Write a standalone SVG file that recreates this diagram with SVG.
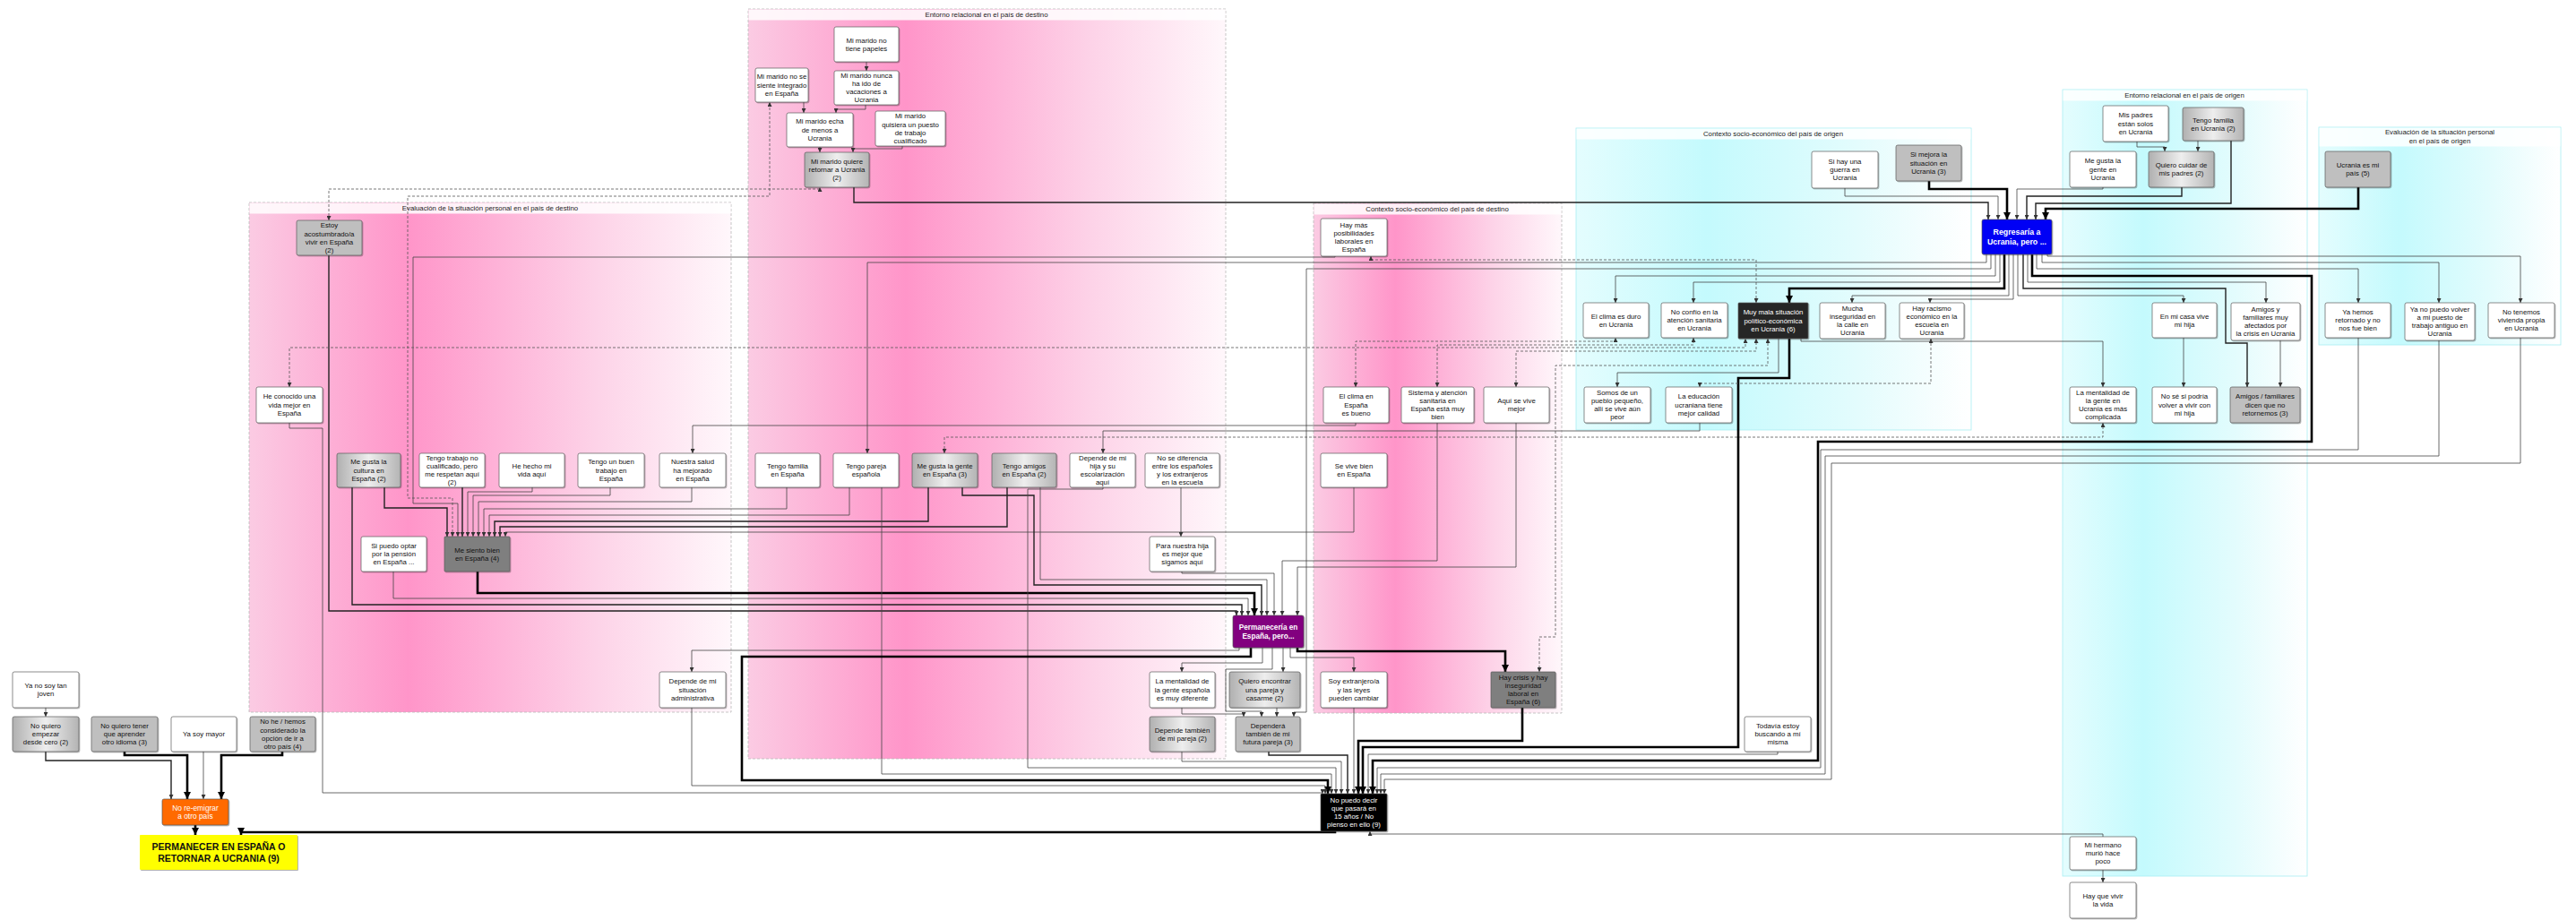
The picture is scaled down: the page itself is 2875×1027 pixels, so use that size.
<svg xmlns="http://www.w3.org/2000/svg" width="2875" height="1027" viewBox="0 0 2875 1027">
<defs>
<linearGradient id="pk" x1="0" y1="0" x2="1" y2="0"><stop offset="0" stop-color="#fbcbe3"/><stop offset="0.33" stop-color="#ff95c9"/><stop offset="0.72" stop-color="#fdd3e8"/><stop offset="1" stop-color="#fff7fb"/></linearGradient>
<linearGradient id="cy" x1="0" y1="0" x2="1" y2="0"><stop offset="0" stop-color="#e4fdfe"/><stop offset="0.33" stop-color="#c4fafd"/><stop offset="0.72" stop-color="#e4fcfd"/><stop offset="1" stop-color="#ffffff"/></linearGradient>
<linearGradient id="gg" x1="0" y1="0" x2="1" y2="0"><stop offset="0" stop-color="#b0b0b0"/><stop offset="0.5" stop-color="#eeeeee"/><stop offset="1" stop-color="#b4b4b4"/></linearGradient>
<filter id="sh" x="-10%" y="-10%" width="130%" height="130%"><feDropShadow dx="1" dy="1" stdDeviation="0.7" flood-color="#000" flood-opacity="0.3"/></filter>
<marker id="a" viewBox="0 0 8 8" refX="8" refY="4" markerWidth="5" markerHeight="5" orient="auto-start-reverse" markerUnits="userSpaceOnUse"><path d="M0,0 L8,4 L0,8z" fill="#333"/></marker>
<marker id="ak" viewBox="0 0 8 8" refX="8" refY="4" markerWidth="8" markerHeight="8" orient="auto-start-reverse" markerUnits="userSpaceOnUse"><path d="M0,0 L8,4 L0,8z" fill="#000"/></marker>
</defs>
<style>
.cont{stroke:#b9b9b9;stroke-width:.8;stroke-dasharray:3 2}
.ccy{stroke:#a8eef2;stroke-width:.8}
.band{fill:#ffffff;fill-opacity:.85}
.ct{font-family:"Liberation Sans",Arial,sans-serif;font-size:7.8px;fill:#222;text-anchor:middle}
.nd rect{stroke:#5a5a5a;stroke-width:.7;filter:url(#sh)}
.w{fill:#fff}.g{fill:#bfbfbf}.gg{fill:url(#gg)}.dk{fill:#7f7f7f}.bk{fill:#262626}.bl{fill:#0000f5}.pu{fill:#82007f}.or{fill:#ff6a00}.ye{fill:#ffff00}.blk{fill:#000}
.tx{font-family:"Liberation Sans",Arial,sans-serif;font-size:7.8px;fill:#111;text-anchor:middle}
.wt{fill:#fff}
.b{font-weight:bold}
.t{fill:none;stroke:#444;stroke-width:.8;marker-end:url(#a)}
.m{fill:none;stroke:#222;stroke-width:1.4;marker-end:url(#a)}
.k{fill:none;stroke:#000;stroke-width:2.6;marker-end:url(#ak)}
.d{fill:none;stroke:#555;stroke-width:.8;stroke-dasharray:3 2;marker-start:url(#a);marker-end:url(#a)}
</style>
<rect width="2875" height="1027" fill="#fff"/>

<g id="containers">
<g id="c_entornoDest"><rect class="cont" x="835" y="10" width="533" height="837" fill="url(#pk)"/><rect class="band" x="835.5" y="10.5" width="532" height="12"/><text class="ct" x="1101" y="19">Entorno relacional en el país de destino</text></g>
<g id="c_evalDest"><rect class="cont" x="278" y="226" width="538" height="569" fill="url(#pk)"/><rect class="band" x="278.5" y="226.5" width="537" height="12"/><text class="ct" x="547" y="235">Evaluación de la situación personal en el país de destino</text></g>
<g id="c_contextDest"><rect class="cont" x="1466" y="227" width="277" height="569" fill="url(#pk)"/><rect class="band" x="1466.5" y="227.5" width="276" height="12"/><text class="ct" x="1604" y="236">Contexto socio-económico del país de destino</text></g>
<g id="c_contextOrig"><rect class="ccy" x="1759" y="143" width="441" height="337" fill="url(#cy)"/><rect class="band" x="1759.5" y="143.5" width="440" height="12"/><text class="ct" x="1979" y="152">Contexto socio-económico del país de origen</text></g>
<g id="c_entornoOrig"><rect class="ccy" x="2302" y="100" width="273" height="878" fill="url(#cy)"/><rect class="band" x="2302.5" y="100.5" width="272" height="12"/><text class="ct" x="2438" y="109">Entorno relacional en el país de origen</text></g>
<g id="c_evalOrig"><rect class="ccy" x="2588" y="142" width="270" height="243" fill="url(#cy)"/><rect class="band" x="2588.5" y="142.5" width="269" height="21"/><text class="ct" x="2723" y="150">Evaluación de la situación personal<tspan x="2723" dy="9.5">en el país de origen</tspan></text></g>
</g>

<g id="connectors">
<path class="t" d="M967,69 V79"/>
<path class="t" d="M897,114 V126"/>
<path class="t" d="M966,117 V122 H933 V126"/>
<path class="t" d="M915,164 V170"/>
<path class="t" d="M1007,163 V166 H952 V170"/>
<path class="d" d="M367,246 V211 H915 V209"/>
<path class="d" d="M505,599 V556 H455 V219 H859 V114"/>
<path class="m" d="M953,209 V226 H2219 V245"/>
<path class="t" d="M1490,286 V287 H461 V562 H511 V599"/>
<path class="d" d="M1960,338 V290 H1530 V286"/>
<path class="m" d="M429,544 V567 H499 V599"/>
<path class="m" d="M516,544 V599"/>
<path class="t" d="M594,544 V549 H522 V599"/>
<path class="t" d="M681,544 V553 H528 V599"/>
<path class="t" d="M772,544 V560 H534 V599"/>
<path class="t" d="M878,544 V568 H540 V599"/>
<path class="t" d="M948,544 V575 H546 V599"/>
<path class="m" d="M1036,544 V582 H552 V599"/>
<path class="m" d="M1124,544 V588 H558 V599"/>
<path class="t" d="M1511,544 V594 H564 V599"/>
<path class="k" d="M533,638 V662 H1400 V687"/>
<path class="t" d="M439,638 V668 H1393 V687"/>
<path class="m" d="M393,544 V675 H1386 V687"/>
<path class="m" d="M367,285 V682 H1380 V687"/>
<path class="t" d="M323,472 V478 H360 V885 H1476 V886"/>
<path class="m" d="M1074,544 V553 H1154 V653 H1408 V687"/>
<path class="t" d="M1161,544 V647 H1414 V687"/>
<path class="t" d="M1231,544 V546 H1147 V857 H1491 V886"/>
<path class="t" d="M1318,544 V599"/>
<path class="t" d="M1319,638 V640 H1422 V687"/>
<path class="t" d="M1604,472 V626 H1431 V687"/>
<path class="t" d="M1692,472 V633 H1448 V687"/>
<path class="t" d="M984,544 V864 H1486 V886"/>
<path class="t" d="M1513,472 V475 H773 V506"/>
<path class="t" d="M1897,472 V481 H1231 V506"/>
<path class="d" d="M1054,506 V488 H2347 V472"/>
<path class="d" d="M1513,432 V381 H1803 V377"/>
<path class="d" d="M1604,432 V385 H1890 V377"/>
<path class="d" d="M323,432 V388 H1948 V378"/>
<path class="d" d="M1692,432 V392 H1960 V378"/>
<path class="d" d="M1973,378 V408 H1736 V711 H1718 V750"/>
<path class="t" d="M1985,378 V416 H1805 V432"/>
<path class="k" d="M1997,378 V422 H1940 V834 H1521 V886"/>
<path class="d" d="M2155,378 V428 H1897 V432"/>
<path class="t" d="M2010,378 V381 H2347 V432"/>
<path class="t" d="M2059,210 V219 H2230 V245"/>
<path class="k" d="M2153,202 V211 H2240 V245"/>
<path class="t" d="M2347,209 V211 H2251 V245"/>
<path class="m" d="M2435,209 V219 H2262 V245"/>
<path class="m" d="M2490,157 V227 H2272 V245"/>
<path class="k" d="M2632,209 V233 H2283 V245"/>
<path class="t" d="M2385,158 V164 H2416 V169"/>
<path class="t" d="M2453,157 V169"/>
<path class="t" d="M2285,284 V286 H2813 V338"/>
<path class="t" d="M2279,284 V293 H2722 V338"/>
<path class="t" d="M2273,284 V300 H2632 V338"/>
<path class="k" d="M2268,284 V308 H2580 V493 H2029 V849 H1532 V886"/>
<path class="t" d="M2263,284 V315 H2529 V338"/>
<path class="m" d="M2258,284 V322 H2484 V383 H2508 V432"/>
<path class="t" d="M2252,284 V330 H2437 V338"/>
<path class="t" d="M2247,284 V334 H2154 V338"/>
<path class="t" d="M2242,284 V330 H2067 V338"/>
<path class="k" d="M2237,284 V322 H1997 V338"/>
<path class="t" d="M2232,284 V315 H1890 V338"/>
<path class="t" d="M2227,284 V308 H1803 V338"/>
<path class="t" d="M2222,284 V300 H1458 V795 H1444 V800"/>
<path class="t" d="M2217,284 V293 H968 V506"/>
<path class="t" d="M2545,380 V432"/>
<path class="t" d="M2437,377 V432"/>
<path class="t" d="M2632,377 V502 H2032 V857 H1537 V886"/>
<path class="t" d="M2722,380 V509 H2037 V864 H1541 V886"/>
<path class="t" d="M2813,377 V517 H2044 V870 H1545 V886"/>
<path class="t" d="M1984,839 V842 H1527 V886"/>
<path class="k" d="M1699,790 V827 H1516 V886"/>
<path class="t" d="M1511,790 V886"/>
<path class="t" d="M1383,723 V726 H772 V750"/>
<path class="k" d="M1396,723 V733 H828 V871 H1482 V886"/>
<path class="t" d="M1409,723 V740 H1319 V750"/>
<path class="t" d="M1420,723 V747 H1368 V794 H1408 V800"/>
<path class="t" d="M1432,723 V750"/>
<path class="t" d="M1440,723 V734 H1511 V750"/>
<path class="k" d="M1448,723 V727 H1680 V750"/>
<path class="t" d="M1319,790 V797 H1388 V800"/>
<path class="t" d="M1425,790 V800"/>
<path class="t" d="M1319,839 V850 H1497 V886"/>
<path class="m" d="M1416,839 V843 H1504 V886"/>
<path class="t" d="M772,790 V877 H1479 V886"/>
<path class="k" d="M1490,928 V929 H269 V932"/>
<path class="t" d="M2347,934 V931 H1529 V928"/>
<path class="t" d="M2347,971 V985"/>
<path class="t" d="M51,790 V800"/>
<path class="m" d="M51,839 V849 H191 V892"/>
<path class="k" d="M139,839 V843 H209 V892"/>
<path class="t" d="M227,839 V892"/>
<path class="k" d="M315,839 V843 H247 V892"/>
<path class="k" d="M218,921 V932"/>
</g>

<g id="nodes">
<g id="n_papeles" class="nd"><rect class="w" x="931" y="30" width="72" height="39" rx="2"/><text class="tx" x="967" y="47.5">Mi marido no<tspan x="967" dy="9.2">tiene papeles</tspan></text></g>
<g id="n_nointegrado" class="nd"><rect class="w" x="843" y="76" width="59" height="38" rx="2"/><text class="tx" x="872.5" y="88.4">Mi marido no se<tspan x="872.5" dy="9.2">siente integrado</tspan><tspan x="872.5" dy="9.2">en España</tspan></text></g>
<g id="n_vacaciones" class="nd"><rect class="w" x="931" y="79" width="72" height="38" rx="2"/><text class="tx" x="967" y="86.8">Mi marido nunca<tspan x="967" dy="9.2">ha ido de</tspan><tspan x="967" dy="9.2">vacaciones a</tspan><tspan x="967" dy="9.2">Ucrania</tspan></text></g>
<g id="n_echa" class="nd"><rect class="w" x="878" y="126" width="74" height="38" rx="2"/><text class="tx" x="915" y="138.4">Mi marido echa<tspan x="915" dy="9.2">de menos a</tspan><tspan x="915" dy="9.2">Ucrania</tspan></text></g>
<g id="n_quisiera" class="nd"><rect class="w" x="977" y="124" width="78" height="39" rx="2"/><text class="tx" x="1016" y="132.3">Mi marido<tspan x="1016" dy="9.2">quisiera un puesto</tspan><tspan x="1016" dy="9.2">de trabajo</tspan><tspan x="1016" dy="9.2">cualificado</tspan></text></g>
<g id="n_quiere" class="nd"><rect class="gg" x="898" y="170" width="72" height="39" rx="2"/><text class="tx" x="934" y="182.9">Mi marido quiere<tspan x="934" dy="9.2">retornar a Ucrania</tspan><tspan x="934" dy="9.2">(2)</tspan></text></g>
<g id="n_estoy" class="nd"><rect class="g" x="331" y="246" width="73" height="39" rx="2"/><text class="tx" x="367.5" y="254.3">Estoy<tspan x="367.5" dy="9.2">acostumbrado/a</tspan><tspan x="367.5" dy="9.2">vivir en España</tspan><tspan x="367.5" dy="9.2">(2)</tspan></text></g>
<g id="n_heconocido" class="nd"><rect class="w" x="286" y="432" width="74" height="40" rx="2"/><text class="tx" x="323" y="445.4">He conocido una<tspan x="323" dy="9.2">vida mejor en</tspan><tspan x="323" dy="9.2">España</tspan></text></g>
<g id="n_cultura" class="nd"><rect class="gg" x="376" y="506" width="71" height="38" rx="2"/><text class="tx" x="411.5" y="518.4">Me gusta la<tspan x="411.5" dy="9.2">cultura en</tspan><tspan x="411.5" dy="9.2">España (2)</tspan></text></g>
<g id="n_trabajonocual" class="nd"><rect class="w" x="468" y="506" width="73" height="38" rx="2"/><text class="tx" x="504.5" y="513.8">Tengo trabajo no<tspan x="504.5" dy="9.2">cualificado, pero</tspan><tspan x="504.5" dy="9.2">me respetan aquí</tspan><tspan x="504.5" dy="9.2">(2)</tspan></text></g>
<g id="n_vida" class="nd"><rect class="w" x="557" y="506" width="73" height="38" rx="2"/><text class="tx" x="593.5" y="523">He hecho mi<tspan x="593.5" dy="9.2">vida aquí</tspan></text></g>
<g id="n_buentrabajo" class="nd"><rect class="w" x="645" y="506" width="74" height="38" rx="2"/><text class="tx" x="682" y="518.4">Tengo un buen<tspan x="682" dy="9.2">trabajo en</tspan><tspan x="682" dy="9.2">España</tspan></text></g>
<g id="n_salud" class="nd"><rect class="w" x="736" y="506" width="74" height="38" rx="2"/><text class="tx" x="773" y="518.4">Nuestra salud<tspan x="773" dy="9.2">ha mejorado</tspan><tspan x="773" dy="9.2">en España</tspan></text></g>
<g id="n_pension" class="nd"><rect class="w" x="403" y="599" width="73" height="39" rx="2"/><text class="tx" x="439.5" y="611.9">Si puedo optar<tspan x="439.5" dy="9.2">por la pensión</tspan><tspan x="439.5" dy="9.2">en España ...</tspan></text></g>
<g id="n_siento" class="nd"><rect class="dk" x="496" y="599" width="73" height="39" rx="1"/><text class="tx" x="532.5" y="616.5">Me siento bien<tspan x="532.5" dy="9.2">en España (4)</tspan></text></g>
<g id="n_admin" class="nd"><rect class="w" x="736" y="750" width="74" height="40" rx="2"/><text class="tx" x="773" y="763.4">Depende de mi<tspan x="773" dy="9.2">situación</tspan><tspan x="773" dy="9.2">administrativa</tspan></text></g>
<g id="n_familiaES" class="nd"><rect class="w" x="843" y="506" width="72" height="38" rx="2"/><text class="tx" x="879" y="523">Tengo familia<tspan x="879" dy="9.2">en España</tspan></text></g>
<g id="n_pareja" class="nd"><rect class="w" x="930" y="506" width="73" height="38" rx="2"/><text class="tx" x="966.5" y="523">Tengo pareja<tspan x="966.5" dy="9.2">española</tspan></text></g>
<g id="n_genteES" class="nd"><rect class="gg" x="1018" y="506" width="73" height="38" rx="2"/><text class="tx" x="1054.5" y="523">Me gusta la gente<tspan x="1054.5" dy="9.2">en España (3)</tspan></text></g>
<g id="n_amigos" class="nd"><rect class="gg" x="1107" y="506" width="72" height="38" rx="2"/><text class="tx" x="1143" y="523">Tengo amigos<tspan x="1143" dy="9.2">en España (2)</tspan></text></g>
<g id="n_hija" class="nd"><rect class="w" x="1194" y="506" width="73" height="38" rx="2"/><text class="tx" x="1230.5" y="513.8">Depende de mi<tspan x="1230.5" dy="9.2">hija y su</tspan><tspan x="1230.5" dy="9.2">escolarización</tspan><tspan x="1230.5" dy="9.2">aquí</tspan></text></g>
<g id="n_nodif" class="nd"><rect class="w" x="1278" y="506" width="83" height="38" rx="2"/><text class="tx" x="1319.5" y="513.8">No se diferencia<tspan x="1319.5" dy="9.2">entre los españoles</tspan><tspan x="1319.5" dy="9.2">y los extranjeros</tspan><tspan x="1319.5" dy="9.2">en la escuela</tspan></text></g>
<g id="n_paranuestra" class="nd"><rect class="w" x="1283" y="599" width="73" height="39" rx="2"/><text class="tx" x="1319.5" y="611.9">Para nuestra hija<tspan x="1319.5" dy="9.2">es mejor que</tspan><tspan x="1319.5" dy="9.2">sigamos aquí</tspan></text></g>
<g id="n_permaneceria" class="nd"><rect class="pu" x="1376" y="687" width="79" height="36" rx="2"/><text class="tx wt b" x="1415.5" y="703" style="font-size:8.2px">Permanecería en<tspan x="1415.5" dy="10">España, pero...</tspan></text></g>
<g id="n_mentES" class="nd"><rect class="w" x="1283" y="750" width="73" height="40" rx="2"/><text class="tx" x="1319.5" y="763.4">La mentalidad de<tspan x="1319.5" dy="9.2">la gente española</tspan><tspan x="1319.5" dy="9.2">es muy diferente</tspan></text></g>
<g id="n_casarme" class="nd"><rect class="gg" x="1372" y="750" width="79" height="40" rx="2"/><text class="tx" x="1411.5" y="763.4">Quiero encontrar<tspan x="1411.5" dy="9.2">una pareja y</tspan><tspan x="1411.5" dy="9.2">casarme (2)</tspan></text></g>
<g id="n_dependepareja" class="nd"><rect class="gg" x="1283" y="800" width="73" height="39" rx="2"/><text class="tx" x="1319.5" y="817.5">Depende también<tspan x="1319.5" dy="9.2">de mi pareja (2)</tspan></text></g>
<g id="n_futura" class="nd"><rect class="g" x="1379" y="800" width="72" height="39" rx="2"/><text class="tx" x="1415" y="812.9">Dependerá<tspan x="1415" dy="9.2">también de mi</tspan><tspan x="1415" dy="9.2">futura pareja (3)</tspan></text></g>
<g id="n_posibilidades" class="nd"><rect class="w" x="1474" y="244" width="74" height="42" rx="2"/><text class="tx" x="1511" y="253.8">Hay más<tspan x="1511" dy="9.2">posibilidades</tspan><tspan x="1511" dy="9.2">laborales en</tspan><tspan x="1511" dy="9.2">España</tspan></text></g>
<g id="n_climaES" class="nd"><rect class="w" x="1477" y="432" width="73" height="40" rx="2"/><text class="tx" x="1513.5" y="445.4">El clima en<tspan x="1513.5" dy="9.2">España</tspan><tspan x="1513.5" dy="9.2">es bueno</tspan></text></g>
<g id="n_sanidadES" class="nd"><rect class="w" x="1564" y="432" width="81" height="40" rx="2"/><text class="tx" x="1604.5" y="440.8">Sistema y atención<tspan x="1604.5" dy="9.2">sanitaria en</tspan><tspan x="1604.5" dy="9.2">España está muy</tspan><tspan x="1604.5" dy="9.2">bien</tspan></text></g>
<g id="n_mejor" class="nd"><rect class="w" x="1656" y="432" width="73" height="40" rx="2"/><text class="tx" x="1692.5" y="450">Aquí se vive<tspan x="1692.5" dy="9.2">mejor</tspan></text></g>
<g id="n_vivebien" class="nd"><rect class="w" x="1474" y="506" width="74" height="38" rx="2"/><text class="tx" x="1511" y="523">Se vive bien<tspan x="1511" dy="9.2">en España</tspan></text></g>
<g id="n_extranjero" class="nd"><rect class="w" x="1474" y="750" width="74" height="40" rx="2"/><text class="tx" x="1511" y="763.4">Soy extranjero/a<tspan x="1511" dy="9.2">y las leyes</tspan><tspan x="1511" dy="9.2">pueden cambiar</tspan></text></g>
<g id="n_crisisES" class="nd"><rect class="dk" x="1664" y="750" width="72" height="40" rx="1"/><text class="tx" x="1700" y="758.8">Hay crisis y hay<tspan x="1700" dy="9.2">inseguridad</tspan><tspan x="1700" dy="9.2">laboral en</tspan><tspan x="1700" dy="9.2">España (6)</tspan></text></g>
<g id="n_todavia" class="nd"><rect class="w" x="1947" y="800" width="74" height="39" rx="2"/><text class="tx" x="1984" y="812.9">Todavía estoy<tspan x="1984" dy="9.2">buscando a mí</tspan><tspan x="1984" dy="9.2">misma</tspan></text></g>
<g id="n_nopuedo" class="nd"><rect class="blk" x="1474" y="886" width="74" height="42" rx="1"/><text class="tx wt" x="1511" y="895.8">No puedo decir<tspan x="1511" dy="9.2">que pasará en</tspan><tspan x="1511" dy="9.2">15 años / No</tspan><tspan x="1511" dy="9.2">pienso en ello (9)</tspan></text></g>
<g id="n_hermano" class="nd"><rect class="w" x="2310" y="934" width="74" height="37" rx="2"/><text class="tx" x="2347" y="945.9">Mi hermano<tspan x="2347" dy="9.2">murió hace</tspan><tspan x="2347" dy="9.2">poco</tspan></text></g>
<g id="n_vivirvida" class="nd"><rect class="w" x="2310" y="985" width="74" height="40" rx="2"/><text class="tx" x="2347" y="1003">Hay que vivir<tspan x="2347" dy="9.2">la vida</tspan></text></g>
<g id="n_joven" class="nd"><rect class="w" x="14" y="750" width="74" height="40" rx="2"/><text class="tx" x="51" y="768">Ya no soy tan<tspan x="51" dy="9.2">joven</tspan></text></g>
<g id="n_cero" class="nd"><rect class="gg" x="14" y="800" width="74" height="39" rx="2"/><text class="tx" x="51" y="812.9">No quiero<tspan x="51" dy="9.2">empezar</tspan><tspan x="51" dy="9.2">desde cero (2)</tspan></text></g>
<g id="n_idioma" class="nd"><rect class="g" x="102" y="800" width="74" height="39" rx="2"/><text class="tx" x="139" y="812.9">No quiero tener<tspan x="139" dy="9.2">que aprender</tspan><tspan x="139" dy="9.2">otro idioma (3)</tspan></text></g>
<g id="n_mayor" class="nd"><rect class="w" x="191" y="800" width="73" height="39" rx="2"/><text class="tx" x="227.5" y="822.1">Ya soy mayor</text></g>
<g id="n_otropais" class="nd"><rect class="g" x="279" y="800" width="73" height="39" rx="2"/><text class="tx" x="315.5" y="808.3">No he / hemos<tspan x="315.5" dy="9.2">considerado la</tspan><tspan x="315.5" dy="9.2">opción de ir a</tspan><tspan x="315.5" dy="9.2">otro país (4)</tspan></text></g>
<g id="n_reemigrar" class="nd"><rect class="or" x="181" y="892" width="74" height="29" rx="2"/><text class="tx wt" x="218" y="904.5" style="font-size:8.4px">No re-emigrar<tspan x="218" dy="9.5">a otro país</tspan></text></g>
<g id="n_root" class="nd"><rect class="ye" x="156" y="932" width="176" height="39" rx="1" style="stroke:none"/><text class="tx b" x="244" y="948.7" style="font-size:10.5px">PERMANECER EN ESPAÑA O<tspan x="244" dy="13">RETORNAR A UCRANIA (9)</tspan></text></g>
<g id="n_guerra" class="nd"><rect class="w" x="2022" y="169" width="74" height="41" rx="2"/><text class="tx" x="2059" y="182.9">Si hay una<tspan x="2059" dy="9.2">guerra en</tspan><tspan x="2059" dy="9.2">Ucrania</tspan></text></g>
<g id="n_mejora" class="nd"><rect class="g" x="2116" y="162" width="73" height="40" rx="2"/><text class="tx" x="2152.5" y="175.4">Si mejora la<tspan x="2152.5" dy="9.2">situación en</tspan><tspan x="2152.5" dy="9.2">Ucrania (3)</tspan></text></g>
<g id="n_climaUA" class="nd"><rect class="w" x="1767" y="338" width="73" height="39" rx="2"/><text class="tx" x="1803.5" y="355.5">El clima es duro<tspan x="1803.5" dy="9.2">en Ucrania</tspan></text></g>
<g id="n_sanidadUA" class="nd"><rect class="w" x="1854" y="338" width="74" height="39" rx="2"/><text class="tx" x="1891" y="350.9">No confío en la<tspan x="1891" dy="9.2">atención sanitaria</tspan><tspan x="1891" dy="9.2">en Ucrania</tspan></text></g>
<g id="n_muymala" class="nd"><rect class="bk" x="1940" y="338" width="78" height="40" rx="1"/><text class="tx wt" x="1979" y="351.4">Muy mala situación<tspan x="1979" dy="9.2">político-económica</tspan><tspan x="1979" dy="9.2">en Ucrania (6)</tspan></text></g>
<g id="n_inseguridad" class="nd"><rect class="w" x="2031" y="338" width="73" height="40" rx="2"/><text class="tx" x="2067.5" y="346.8">Mucha<tspan x="2067.5" dy="9.2">inseguridad en</tspan><tspan x="2067.5" dy="9.2">la calle en</tspan><tspan x="2067.5" dy="9.2">Ucrania</tspan></text></g>
<g id="n_racismo" class="nd"><rect class="w" x="2120" y="338" width="72" height="40" rx="2"/><text class="tx" x="2156" y="346.8">Hay racismo<tspan x="2156" dy="9.2">económico en la</tspan><tspan x="2156" dy="9.2">escuela en</tspan><tspan x="2156" dy="9.2">Ucrania</tspan></text></g>
<g id="n_pueblo" class="nd"><rect class="w" x="1768" y="432" width="74" height="40" rx="2"/><text class="tx" x="1805" y="440.8">Somos de un<tspan x="1805" dy="9.2">pueblo pequeño,</tspan><tspan x="1805" dy="9.2">allí se vive aún</tspan><tspan x="1805" dy="9.2">peor</tspan></text></g>
<g id="n_educacion" class="nd"><rect class="w" x="1859" y="432" width="74" height="40" rx="2"/><text class="tx" x="1896" y="445.4">La educación<tspan x="1896" dy="9.2">ucraniana tiene</tspan><tspan x="1896" dy="9.2">mejor calidad</tspan></text></g>
<g id="n_regresaria" class="nd"><rect class="bl" x="2212" y="245" width="78" height="39" rx="2"/><text class="tx wt b" x="2251" y="262.3" style="font-size:8.8px">Regresaría a<tspan x="2251" dy="10.5">Ucrania, pero ...</tspan></text></g>
<g id="n_padres" class="nd"><rect class="w" x="2347" y="118" width="73" height="40" rx="2"/><text class="tx" x="2383.5" y="131.4">Mis padres<tspan x="2383.5" dy="9.2">están solos</tspan><tspan x="2383.5" dy="9.2">en Ucrania</tspan></text></g>
<g id="n_familiaUA" class="nd"><rect class="gg" x="2436" y="120" width="68" height="37" rx="2"/><text class="tx" x="2470" y="136.5">Tengo familia<tspan x="2470" dy="9.2">en Ucrania (2)</tspan></text></g>
<g id="n_genteUA" class="nd"><rect class="w" x="2310" y="169" width="74" height="40" rx="2"/><text class="tx" x="2347" y="182.4">Me gusta la<tspan x="2347" dy="9.2">gente en</tspan><tspan x="2347" dy="9.2">Ucrania</tspan></text></g>
<g id="n_cuidar" class="nd"><rect class="gg" x="2398" y="169" width="73" height="40" rx="2"/><text class="tx" x="2434.5" y="187">Quiero cuidar de<tspan x="2434.5" dy="9.2">mis padres (2)</tspan></text></g>
<g id="n_casa" class="nd"><rect class="w" x="2402" y="338" width="72" height="39" rx="2"/><text class="tx" x="2438" y="355.5">En mi casa vive<tspan x="2438" dy="9.2">mi hija</tspan></text></g>
<g id="n_afectados" class="nd"><rect class="w" x="2490" y="338" width="77" height="42" rx="2"/><text class="tx" x="2528.5" y="347.8">Amigos y<tspan x="2528.5" dy="9.2">familiares muy</tspan><tspan x="2528.5" dy="9.2">afectados por</tspan><tspan x="2528.5" dy="9.2">la crisis en Ucrania</tspan></text></g>
<g id="n_mentUA" class="nd"><rect class="w" x="2310" y="432" width="74" height="40" rx="2"/><text class="tx" x="2347" y="440.8">La mentalidad de<tspan x="2347" dy="9.2">la gente en</tspan><tspan x="2347" dy="9.2">Ucrania es más</tspan><tspan x="2347" dy="9.2">complicada</tspan></text></g>
<g id="n_vivirhija" class="nd"><rect class="w" x="2402" y="432" width="72" height="40" rx="2"/><text class="tx" x="2438" y="445.4">No sé si podría<tspan x="2438" dy="9.2">volver a vivir con</tspan><tspan x="2438" dy="9.2">mi hija</tspan></text></g>
<g id="n_dicen" class="nd"><rect class="g" x="2489" y="432" width="78" height="40" rx="2"/><text class="tx" x="2528" y="445.4">Amigos / familiares<tspan x="2528" dy="9.2">dicen que no</tspan><tspan x="2528" dy="9.2">retornemos (3)</tspan></text></g>
<g id="n_mipais" class="nd"><rect class="g" x="2595" y="169" width="73" height="40" rx="2"/><text class="tx" x="2631.5" y="187">Ucrania es mi<tspan x="2631.5" dy="9.2">país (5)</tspan></text></g>
<g id="n_retornado" class="nd"><rect class="w" x="2595" y="338" width="73" height="39" rx="2"/><text class="tx" x="2631.5" y="350.9">Ya hemos<tspan x="2631.5" dy="9.2">retornado y no</tspan><tspan x="2631.5" dy="9.2">nos fue bien</tspan></text></g>
<g id="n_puesto" class="nd"><rect class="w" x="2684" y="338" width="78" height="42" rx="2"/><text class="tx" x="2723" y="347.8">Ya no puedo volver<tspan x="2723" dy="9.2">a mi puesto de</tspan><tspan x="2723" dy="9.2">trabajo antiguo en</tspan><tspan x="2723" dy="9.2">Ucrania</tspan></text></g>
<g id="n_vivienda" class="nd"><rect class="w" x="2777" y="338" width="74" height="39" rx="2"/><text class="tx" x="2814" y="350.9">No tenemos<tspan x="2814" dy="9.2">vivienda propia</tspan><tspan x="2814" dy="9.2">en Ucrania</tspan></text></g>
</g>
</svg>
